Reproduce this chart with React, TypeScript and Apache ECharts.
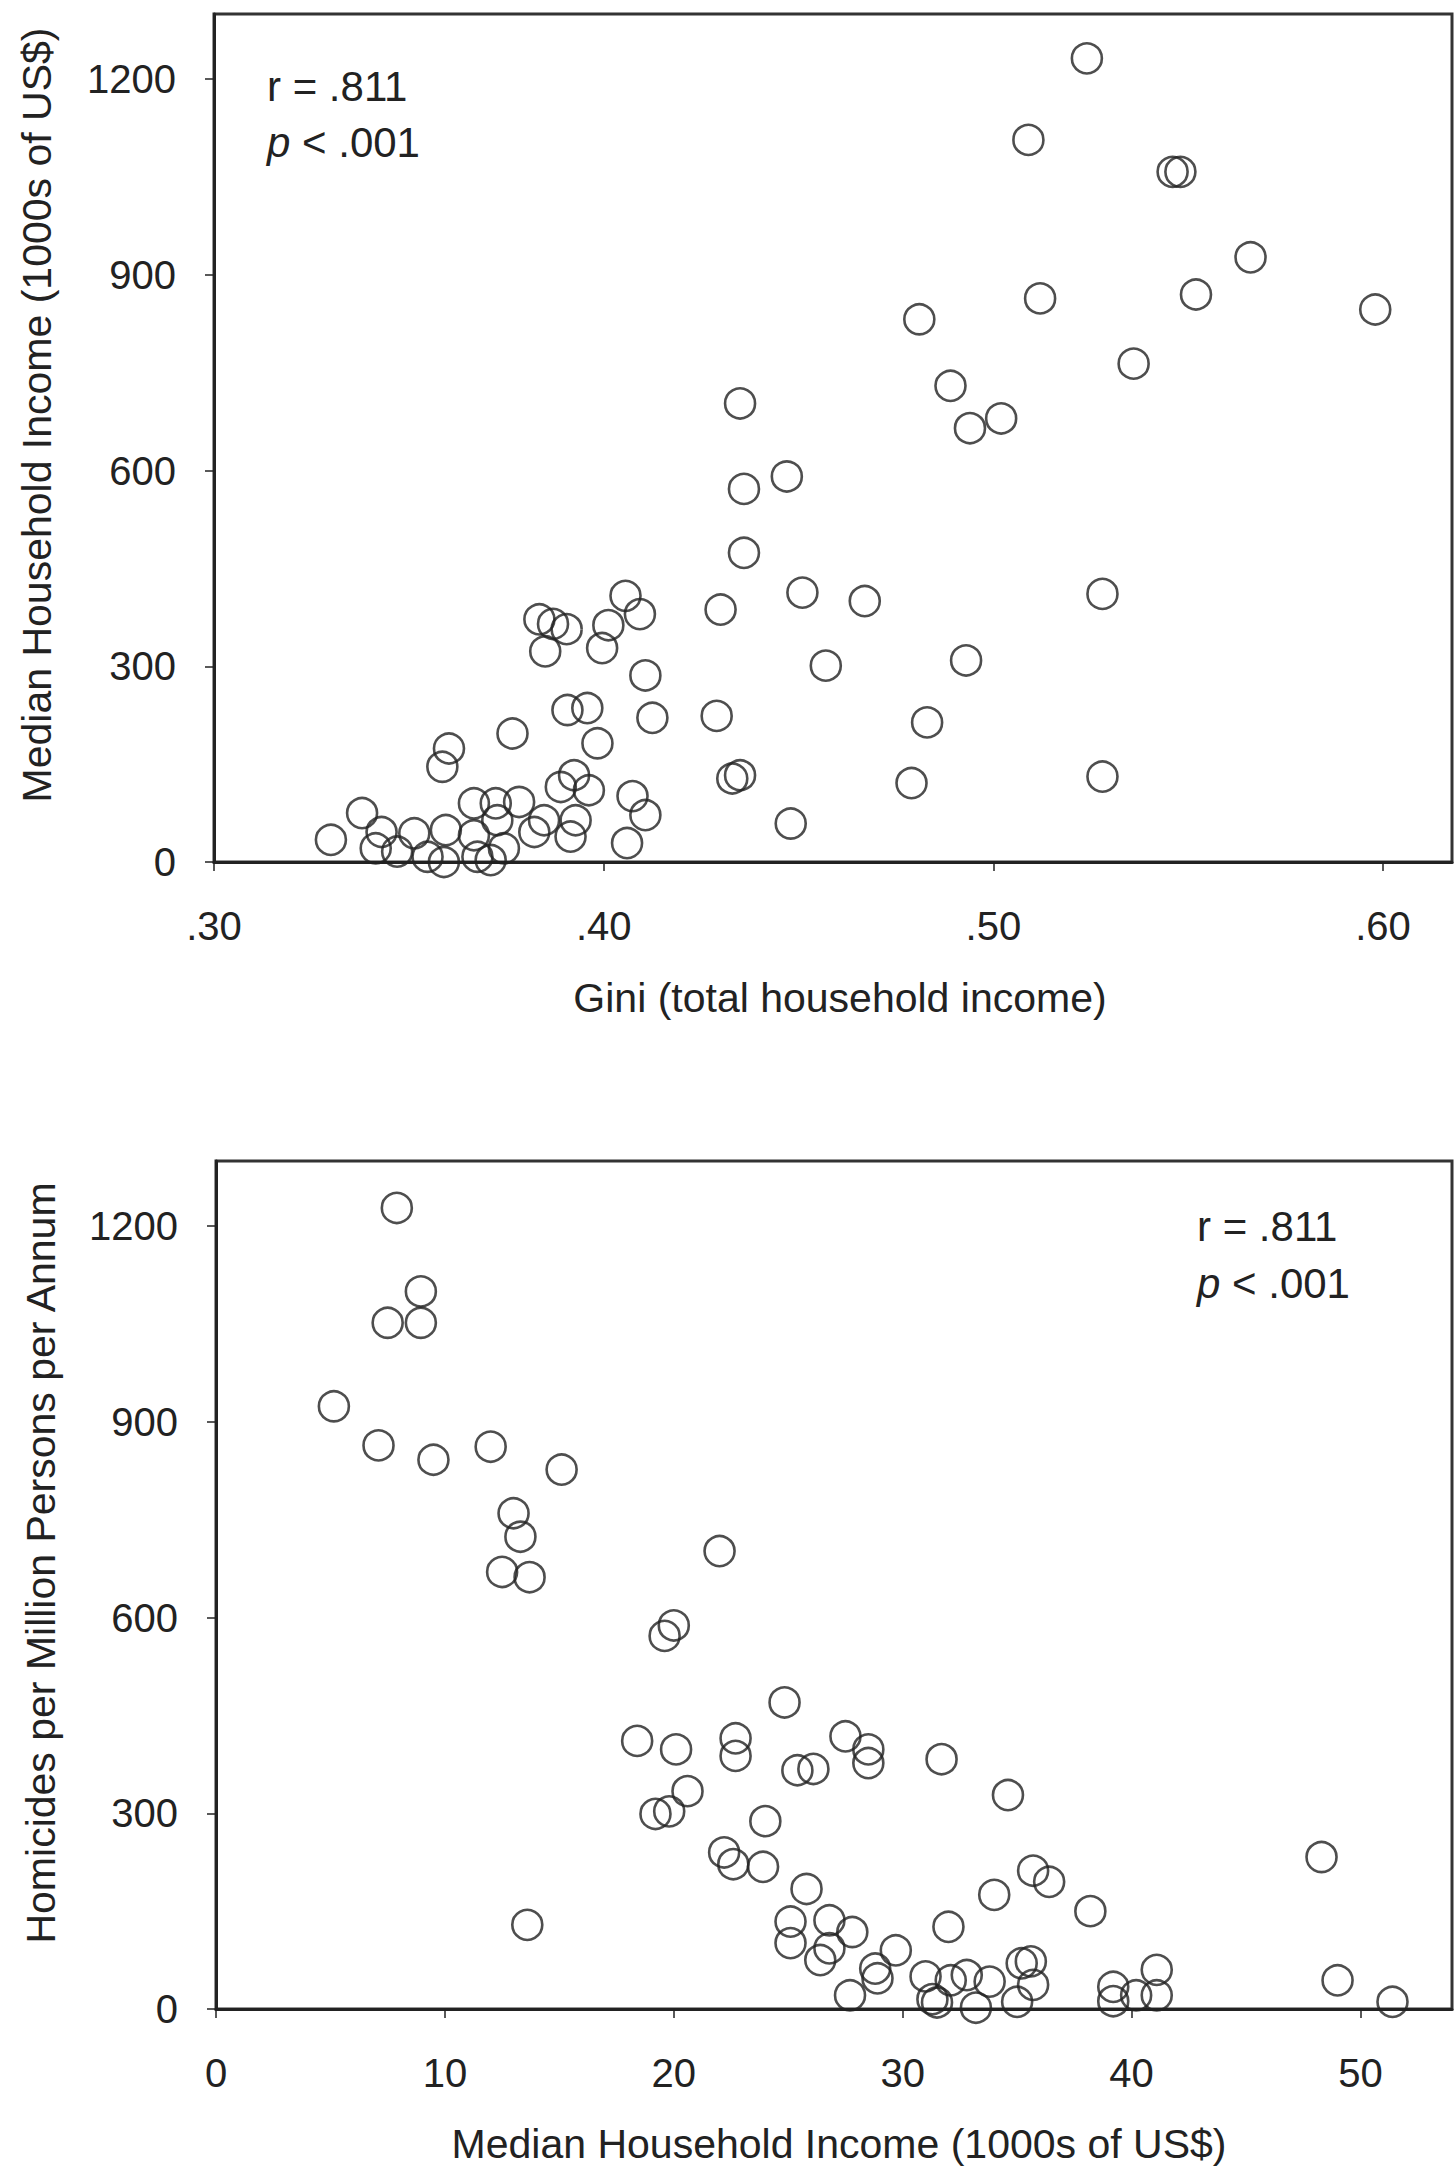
import React, { useEffect, useRef } from "react";
import * as echarts from "echarts";

// ---- Top panel: Gini vs homicides ----
const giniX: number[] = [
  0.524, 0.509, 0.546, 0.548, 0.566, 0.598, 0.512, 0.552, 0.481, 0.536,
  0.489, 0.502, 0.494, 0.435, 0.447, 0.436, 0.436, 0.451, 0.467, 0.430,
  0.528, 0.457, 0.493, 0.429, 0.483, 0.433, 0.435, 0.479, 0.528, 0.448,
  0.330, 0.338, 0.3415, 0.343, 0.347, 0.3514, 0.3548, 0.359, 0.3595, 0.3603,
  0.3586, 0.3667, 0.3667, 0.3676, 0.371, 0.3723, 0.3744, 0.3783, 0.3727, 0.3766,
  0.3822, 0.3847, 0.3907, 0.3958, 0.389, 0.3924, 0.3962, 0.3915, 0.3928, 0.3984,
  0.3835, 0.387, 0.3905, 0.385, 0.3996, 0.4012, 0.4056, 0.4093, 0.4107, 0.4125,
  0.4074, 0.4107, 0.406,
];
const giniHomicides: number[] = [
  1232, 1107, 1058, 1058, 927, 847, 864, 870, 832, 764,
  730, 680, 665, 703, 591, 572, 474, 413, 400, 387,
  411, 301, 309, 224, 214, 128, 133, 121, 131, 59,
  34, 75, 21, 46, 16, 44, 8, 0, 49, 174,
  146, 90, 41, 8, 3, 90, 21, 92, 64, 197,
  46, 64, 233, 236, 115, 133, 110, 39, 64, 182,
  372, 365, 357, 323, 328, 363, 408, 380, 286, 221,
  101, 72, 29,
];

// ---- Bottom panel: median income vs homicides ----
const incomeX: number[] = [
  7.9, 8.95, 7.5, 8.95, 5.15, 7.1, 9.5, 12.0, 15.1, 13.0,
  13.3, 12.5, 13.7, 22.0, 20.0, 19.6, 18.4, 20.1, 20.6, 19.2,
  19.8, 13.6, 22.2, 24.84, 22.7, 22.7, 27.5, 28.5, 28.5, 25.4,
  26.1, 31.7, 34.6, 24.0, 22.6, 23.9, 25.8, 25.1, 25.1, 26.8,
  27.8, 26.8, 26.4, 27.7, 28.8, 28.9, 29.7, 31.0, 31.3, 31.5,
  32.0, 32.1, 32.8, 33.2, 33.8, 34.0, 35.0, 35.2, 35.6, 35.7,
  36.4, 35.7, 38.2, 39.2, 39.2, 40.2, 41.1, 41.1, 48.3, 49.0,
  51.4,
];
const incomeHomicides: number[] = [
  1228, 1100, 1052, 1052, 924, 864, 842, 862, 827, 760,
  724, 670, 662, 702, 588, 572, 411, 398, 334, 299,
  303, 129, 240, 470, 415, 388, 418, 398, 377, 366,
  368, 383, 328, 288, 222, 218, 184, 134, 101, 136,
  118, 93, 75, 21, 62, 47, 90, 50, 15, 10,
  126, 44, 52, 2, 42, 175, 11, 70, 73, 37,
  195, 212, 150, 34, 12, 21, 60, 21, 233, 44,
  11,
];

const yTicks: number[] = [0, 300, 600, 900, 1200];
const giniTicks: number[] = [0.3, 0.4, 0.5, 0.6];
const incomeTicks: number[] = [0, 10, 20, 30, 40, 50];

const FONT = '"Liberation Sans", Arial, Helvetica, sans-serif';
const INK = "#222";

export default function App() {
  const ref = useRef<HTMLDivElement>(null);

  useEffect(() => {
    document.body.style.margin = "0";
    if (!ref.current) return;
    const chart = echarts.init(ref.current, null, { renderer: "svg" });

    const topData = giniX.map((x, i) => [x, giniHomicides[i]]);
    const botData = incomeX.map((x, i) => [x, incomeHomicides[i]]);

    const axisLine = { show: true, onZero: false, lineStyle: { color: INK, width: 3 } };
    const axisTick = { show: true, length: 9, lineStyle: { color: INK, width: 1.5 } };
    const labelBase = { color: INK, fontSize: 40, fontFamily: FONT, showMaxLabel: false };

    const yAxisCfg = (gridIndex: number) => ({
      gridIndex,
      type: "value",
      min: 0,
      max: 1300,
      interval: 300,
      axisLine,
      axisTick,
      splitLine: { show: false },
      axisLabel: {
        ...labelBase,
        margin: 38,
        formatter: (v: number) => (yTicks.includes(v) ? String(v) : ""),
      },
    });

    const marker = {
      symbol: "circle",
      symbolSize: 30,
      itemStyle: { color: "rgba(255,255,255,0)", borderColor: INK, borderWidth: 2.6 },
    };

    const option: any = {
      animation: false,
      backgroundColor: "#fff",
      grid: [
        { left: 214, top: 14, right: 2, height: 848, show: true, borderColor: "#333", borderWidth: 3, backgroundColor: "transparent" },
        { left: 216, top: 1161, right: 2, height: 848, show: true, borderColor: "#333", borderWidth: 3, backgroundColor: "transparent" },
      ],
      xAxis: [
        {
          gridIndex: 0,
          type: "value",
          min: 0.3,
          max: 0.6177,
          interval: 0.1,
          axisLine,
          axisTick,
          splitLine: { show: false },
          axisLabel: {
            ...labelBase,
            margin: 44,
            formatter: (v: number) => {
              const hit = giniTicks.find((t) => Math.abs(t - v) < 1e-6);
              return hit === undefined ? "" : hit.toFixed(2).replace(/^0/, "");
            },
          },
        },
        {
          gridIndex: 1,
          type: "value",
          min: 0,
          max: 54,
          interval: 10,
          axisLine,
          axisTick,
          splitLine: { show: false },
          axisLabel: {
            ...labelBase,
            margin: 44,
            formatter: (v: number) => (incomeTicks.includes(v) ? String(v) : ""),
          },
        },
      ],
      yAxis: [yAxisCfg(0), yAxisCfg(1)],
      series: [
        { type: "scatter", xAxisIndex: 0, yAxisIndex: 0, data: topData, ...marker },
        { type: "scatter", xAxisIndex: 1, yAxisIndex: 1, data: botData, ...marker },
      ],
      graphic: [
        {
          type: "text",
          x: 37,
          y: 415,
          rotation: Math.PI / 2,
          style: {
            text: "Median Household Income (1000s of US$)",
            font: `41px ${FONT}`,
            fill: INK,
            textAlign: "center",
            textVerticalAlign: "middle",
          },
        },
        {
          type: "text",
          x: 840,
          y: 998,
          style: {
            text: "Gini (total household income)",
            font: `41px ${FONT}`,
            fill: INK,
            textAlign: "center",
            textVerticalAlign: "middle",
          },
        },
        {
          type: "text",
          x: 41,
          y: 1563,
          rotation: Math.PI / 2,
          style: {
            text: "Homicides per Million Persons per Annum",
            font: `41px ${FONT}`,
            fill: INK,
            textAlign: "center",
            textVerticalAlign: "middle",
          },
        },
        {
          type: "text",
          x: 839,
          y: 2144,
          style: {
            text: "Median Household Income (1000s of US$)",
            font: `41px ${FONT}`,
            fill: INK,
            textAlign: "center",
            textVerticalAlign: "middle",
          },
        },
        {
          type: "text",
          x: 267,
          y: 86,
          style: { text: "r = .811", font: `42px ${FONT}`, fill: INK, textVerticalAlign: "middle" },
        },
        {
          type: "text",
          x: 267,
          y: 142,
          style: {
            text: "{i|p} < .001",
            font: `42px ${FONT}`,
            fill: INK,
            textVerticalAlign: "middle",
            rich: { i: { fontStyle: "italic", fontSize: 42, fontFamily: FONT, fill: INK } },
          },
        },
        {
          type: "text",
          x: 1197,
          y: 1226,
          style: { text: "r = .811", font: `42px ${FONT}`, fill: INK, textVerticalAlign: "middle" },
        },
        {
          type: "text",
          x: 1197,
          y: 1283,
          style: {
            text: "{i|p} < .001",
            font: `42px ${FONT}`,
            fill: INK,
            textVerticalAlign: "middle",
            rich: { i: { fontStyle: "italic", fontSize: 42, fontFamily: FONT, fill: INK } },
          },
        },
      ],
    };

    chart.setOption(option);
    return () => chart.dispose();
  }, []);

  return <div ref={ref} style={{ width: 1454, height: 2167 }} />;
}
